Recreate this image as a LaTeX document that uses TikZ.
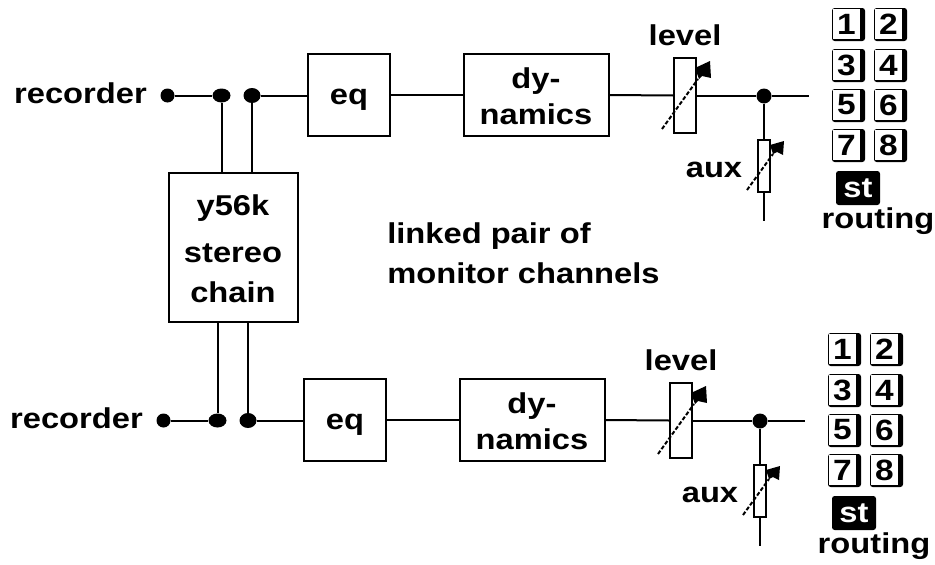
\documentclass[tikz,border=0pt]{standalone}
\usepackage{fontspec}
\setmainfont[FakeStretch=1.14,BoldFont={Liberation Sans Bold},BoldFeatures={FakeStretch=1.14}]{Liberation Sans}
\usetikzlibrary{calc,shapes.geometric}
\newcommand{\chan}[3]{%
\begin{scope}[shift={(#2,#3)},name prefix=#1-]
  \node[blk,minimum width=82pt*.75,minimum height=82pt*.75] (eq) at (349,95) {};
  \node[lab] (eqt) at (349,96) {eq};
  \node[blk,minimum width=145pt*.75,minimum height=82pt*.75] (dyn) at (536,95) {};
  \node[lab] (dyt) at (536,80) {dy-};
  \node[lab] (dyb) at (536,116) {namics};
  \node[blk,minimum width=22pt*.75,minimum height=75pt*.75] (lev) at (685,95.5) {};
  \node[blk,minimum width=12pt*.75,minimum height=52pt*.75] (aux) at (764,166) {};
  \node[jdot,minimum size=15pt*.75] (j) at (764,96) {};
  \node[jdot,minimum width=18pt*.75,minimum height=14pt*.75] (jb) at (221.5,95.5) {};
  \node[jdot,minimum width=17pt*.75,minimum height=15pt*.75] (jc) at (252,95.5) {};
  \node[jdot,minimum size=14pt*.75] (ja) at (167.5,95.5) {};
  \node[lab,anchor=east] (rec) at (147,95) {recorder};
  \coordinate (out) at (809,96);
  \coordinate (auxend) at (764,221);
  \draw[wire] (ja) -- (jb);
  \draw[wire] (jc) -- (jc -| eq.west);
  \draw[wire] (eq.east) -- (dyn.west);
  \draw[wire] (dyn.east) -- (lev.west);
  \draw[wire] (lev.east |- j) -- (j) -- (out);
  \draw[wire] (j) -- (aux);
  \draw[wire] (aux) -- (auxend);
  \node[lab] (levl) at (685,37) {level};
  \node[lab] (auxl) at (714,169) {aux};
  \coordinate (a1) at (662,129); \coordinate (a2) at (698,79);
  \draw[wire,dash pattern=on 3pt off 1.5pt] (a1) -- (a2);
  \fill ($(a2)+(-3,-11)$) -- ++(15,-7) -- ++(1,17) -- ++(-9,-2) -- ++(-3,3) -- cycle;
  \coordinate (b1) at (747,190); \coordinate (b2) at (773,154);
  \draw[wire,dash pattern=on 3pt off 1.5pt] (b1) -- (b2);
  \fill ($(b2)+(-3,-9)$) -- ++(14,-4) -- ++(-1,14) -- ++(-6,-3) -- ++(-4,2) -- cycle;
  \foreach \n/\x/\y in {1/848/25,2/890/25,3/848/66,4/890/66,5/848/106,6/890/106,7/848/146,8/890/146}{
    \fill[rounded corners=2pt] (\x-16,\y-17) rectangle (\x+17,\y+16);
    \node[btn] (b\n) at (\x-1.5,\y-1) {\n};
  }
  \node[stb] (st) at (858,188) {st};
  \node[lab] (rt) at (878,220) {routing};
\end{scope}}
\tikzset{
  x=.75pt,y=-.75pt,
  wire/.style={line width=2pt*.75},
  blk/.style={draw,line width=2pt*.75,fill=white,inner sep=0pt},
  lab/.style={inner sep=0pt,text height=16pt,text depth=4pt,font=\fontsize{21.5pt}{24pt}\selectfont\bfseries},
  jdot/.style={ellipse,fill=black,inner sep=0pt},
  btn/.style={fill=white,inner sep=0pt,minimum width=27pt*.75,minimum height=30pt*.75,font=\fontsize{22pt}{24pt}\selectfont\bfseries},
  stb/.style={fill=black,text=white,rounded corners=2pt,inner sep=0pt,minimum width=44pt*.75,minimum height=34pt*.75,font=\fontsize{21.5pt}{24pt}\selectfont\bfseries},
}
\begin{document}
\begin{tikzpicture}
\useasboundingbox (0,0) rectangle (935,564);
\fill[white] (0,0) rectangle (935,564);
\chan{t}{0}{0}
\chan{u}{-4}{325}
\node[blk,minimum width=129pt*.75,minimum height=149pt*.75] (chain) at (233.5,247.5) {};
\node[lab] (c1) at (233,207) {y56k};
\node[lab] (c2) at (233,254) {stereo};
\node[lab] (c3) at (233,294) {chain};
\draw[wire] (t-jb) -- (t-jb |- chain.north);
\draw[wire] (t-jc) -- (t-jc |- chain.north);
\draw[wire] (u-jb |- chain.south) -- (u-jb);
\draw[wire] (u-jc |- chain.south) -- (u-jc);
\node[lab,anchor=west] (m1) at (387,235) {linked pair of};
\node[lab,anchor=west] (m2) at (387,275) {monitor channels};
\end{tikzpicture}
\end{document}
